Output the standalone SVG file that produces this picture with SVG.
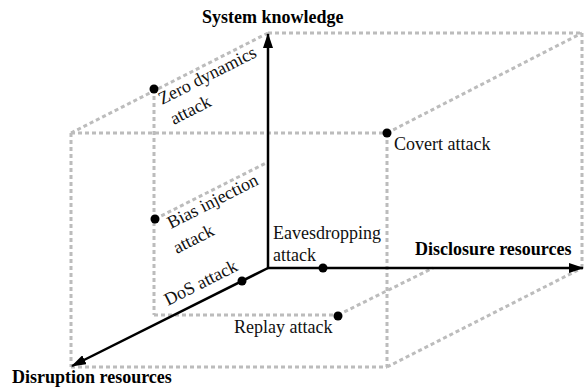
<svg xmlns="http://www.w3.org/2000/svg" width="587" height="388" viewBox="0 0 587 388">
<style>
.d{stroke:#bcbcbc;stroke-width:3;stroke-dasharray:4 3;fill:none}
.ax{stroke:#000;stroke-width:2.5;fill:none}
.t{font-family:"Liberation Serif","Times New Roman",serif;font-size:18px;fill:#111}
.b{font-family:"Liberation Serif","Times New Roman",serif;font-size:18px;font-weight:bold;fill:#000}
.dot{fill:#000}
</style>
<defs>
<marker id="ah" markerWidth="15" markerHeight="10" refX="14" refY="5" orient="auto" markerUnits="userSpaceOnUse">
<path d="M0,0 L15,5 L0,10 z" fill="#000"/>
</marker>
</defs>
<g id="connectors">
<g id="cube">
<line class="d" x1="268" y1="33" x2="582" y2="33"/>
<line class="d" x1="582" y1="33" x2="582" y2="268"/>
<line class="d" x1="71" y1="133" x2="268" y2="33"/>
<line class="d" x1="387" y1="133" x2="582" y2="33"/>
<line class="d" x1="387" y1="367" x2="582" y2="268"/>
<line class="d" x1="71" y1="133" x2="387" y2="133"/>
<line class="d" x1="71" y1="133" x2="71" y2="367"/>
<line class="d" x1="71" y1="367" x2="387" y2="367"/>
<line class="d" x1="387" y1="133" x2="387" y2="367"/>
<line class="d" x1="154" y1="89" x2="154" y2="315"/>
<line class="d" x1="154" y1="315" x2="338" y2="315"/>
<line class="d" x1="338" y1="315" x2="433" y2="268"/>
<line class="d" x1="155" y1="219" x2="268" y2="162"/>
</g>
<line class="ax" x1="268" y1="269" x2="268" y2="34" marker-end="url(#ah)"/>
<line class="ax" x1="267" y1="268" x2="583" y2="268" marker-end="url(#ah)"/>
<line class="ax" x1="268" y1="268" x2="72" y2="366" marker-end="url(#ah)"/>
</g>
<g id="axis-system"><text class="b" x="202" y="23">System knowledge</text></g>
<g id="axis-disclosure"><text class="b" x="415" y="255">Disclosure resources</text></g>
<g id="axis-disruption"><text class="b" x="12" y="383">Disruption resources</text></g>
<g id="zero-dynamics">
<circle class="dot" cx="154" cy="89" r="4.5"/>
<text class="t" transform="translate(162,105) rotate(-27)">Zero dynamics</text>
<text class="t" transform="translate(174,125) rotate(-27)">attack</text>
</g>
<g id="bias-injection">
<circle class="dot" cx="155" cy="219" r="4.5"/>
<text class="t" transform="translate(171,229) rotate(-27)">Bias injection</text>
<text class="t" transform="translate(177,254) rotate(-27)">attack</text>
</g>
<g id="dos">
<circle class="dot" cx="242" cy="281" r="4.5"/>
<text class="t" transform="translate(168,306) rotate(-27)">DoS attack</text>
</g>
<g id="eavesdropping">
<circle class="dot" cx="323" cy="268" r="4.5"/>
<text class="t" x="273" y="239">Eavesdropping</text>
<text class="t" x="273" y="261">attack</text>
</g>
<g id="covert">
<circle class="dot" cx="387" cy="133" r="4.5"/>
<text class="t" x="394" y="150">Covert attack</text>
</g>
<g id="replay">
<circle class="dot" cx="338" cy="316" r="4.5"/>
<text class="t" x="234" y="333">Replay attack</text>
</g>
</svg>
